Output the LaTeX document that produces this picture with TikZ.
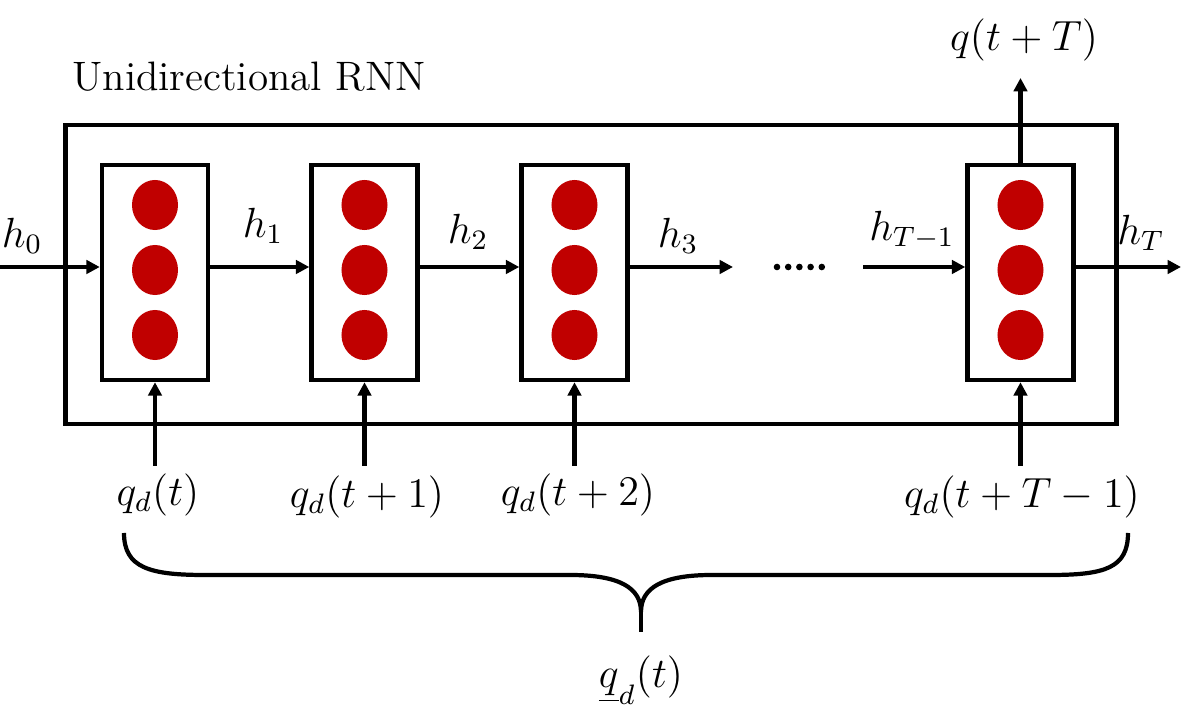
\documentclass[tikz,border=0pt]{standalone}
\usetikzlibrary{arrows.meta,shapes.geometric}
\definecolor{nred}{RGB}{192,0,0}
\begin{document}
\begin{tikzpicture}[x=0.01cm,y=-0.01cm,
  font=\fontsize{11.7}{14}\selectfont,
  line width=1.2pt,
  cell/.style={draw, line width=1.25pt, minimum width=1.06cm, minimum height=2.15cm, inner sep=0pt},
  neuron/.style={fill=nred, draw=none, ellipse, minimum width=0.46cm, minimum height=0.5cm, inner sep=0pt},
  arr/.style={-{Triangle[length=3.8pt,width=3.8pt]}, line width=1.2pt},
  lbl/.style={inner sep=1pt}]
\useasboundingbox (0,0) rectangle (1196,713);
% title
\node[lbl] (title) at (249,77) {Unidirectional RNN};
% outer box
\node[draw, line width=1.25pt, minimum width=10.5cm, minimum height=2.99cm, inner sep=0pt] (rnn) at (591,274.5) {};
% cells
\foreach \n/\x in {1/155,2/364.5,3/574.5,4/1020.5}{
  \node[cell] (c\n) at (\x,272.5) {};
  \node[neuron] (n\n a) at (\x,205) {};
  \node[neuron] (n\n b) at (\x,270) {};
  \node[neuron] (n\n c) at (\x,335) {};
}
% horizontal connections
\coordinate (in0) at (0,267);
\draw[arr] (in0) -- (in0 -| c1.west);
\draw[arr] (c1.east |- in0) -- (c2.west |- in0);
\draw[arr] (c2.east |- in0) -- (c3.west |- in0);
\coordinate (h3end) at (733,267);
\draw[arr] (c3.east |- in0) -- (h3end);
\foreach \i in {0,...,4}{
  \fill (777+\i*11.2,267) circle (3.3);
}
\coordinate (hTm1start) at (863,267);
\draw[arr] (hTm1start) -- (c4.west |- in0);
\coordinate (hTend) at (1181,267);
\draw[arr] (c4.east |- in0) -- (hTend);
% output
\coordinate (outTop) at (1020.5,78);
\draw[arr] (c4.north) -- (outTop);
\node[lbl] (qout) at (1024,40) {$q(t+T)$};
% h labels
\node[lbl] (h0) at (22,236) {$h_0$};
\node[lbl] (h1) at (263,226) {$h_1$};
\node[lbl] (h2) at (468,232) {$h_2$};
\node[lbl] (h3) at (678,236) {$h_3$};
\node[lbl] (hT1) at (912,230) {$h_{T-1}$};
\node[lbl] (hT) at (1141,233) {$h_T$};
% inputs
\foreach \n/\x in {1/155,2/364.5,3/574.5,4/1020.5}{
  \coordinate (i\n) at (\x,466);
  \draw[arr] (i\n) -- (c\n.south);
}
\node[lbl] (q1) at (158,495) {$q_d(t)$};
\node[lbl] (q2) at (367,497) {$q_d(t+1)$};
\node[lbl] (q3) at (578,495) {$q_d(t+2)$};
\node[lbl] (q4) at (1022,497) {$q_d(t+T-1)$};
% brace
\coordinate (bl) at (124,533);
\coordinate (br) at (1128,533);
\coordinate (btip) at (641,612);
\coordinate (bend) at (641,632);
\draw[line width=1.2pt] (bl) .. controls (124,568) and (150,575) .. (205,575)
  -- (570,575) .. controls (620,575) and (641,588) .. (btip)
  .. controls (641,588) and (662,575) .. (712,575)
  -- (1050,575) .. controls (1105,575) and (1128,568) .. (br);
\draw[line width=1.2pt] (btip) -- (bend);
\node[lbl] (qvec) at (641,680) {$\underline{q}_d(t)$};
\end{tikzpicture}
\end{document}
